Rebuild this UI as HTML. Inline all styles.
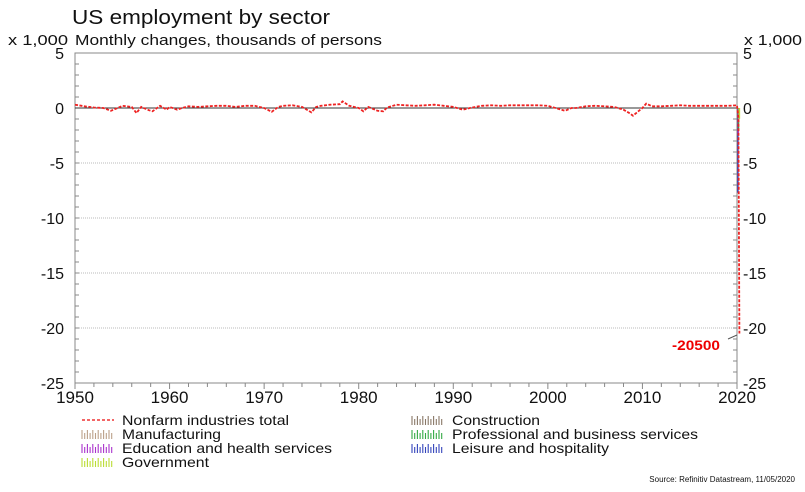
<!DOCTYPE html>
<html><head><meta charset="utf-8"><style>
body{margin:0;background:#fff;font-family:"Liberation Sans",Arial,sans-serif}
svg{display:block}
</style></head><body>
<svg id="chart" width="805" height="492" xmlns="http://www.w3.org/2000/svg">
<text x="72" y="24" font-size="20" textLength="258" lengthAdjust="spacingAndGlyphs" fill="#111">US employment by sector</text>
<text x="8" y="45" font-size="15" textLength="60" lengthAdjust="spacingAndGlyphs" fill="#111">x 1,000</text>
<text x="75" y="45" font-size="15" textLength="307" lengthAdjust="spacingAndGlyphs" fill="#111">Monthly changes, thousands of persons</text>
<text x="744" y="45" font-size="15" textLength="58" lengthAdjust="spacingAndGlyphs" fill="#111">x 1,000</text>
<g id="grid"></g><g id="axes"></g><g id="series"></g>
<text x="672" y="350" font-size="14" font-weight="bold" textLength="48" lengthAdjust="spacingAndGlyphs" fill="#e00">-20500</text>
<line x1="728" y1="339" x2="737" y2="335" stroke="#555" stroke-width="1"/>
<g id="legend" font-size="14" fill="#111">
<line x1="82" y1="420" x2="114" y2="420" stroke="#e33" stroke-width="1.5" stroke-dasharray="3,2"/>
<text x="122" y="425" textLength="167" lengthAdjust="spacingAndGlyphs">Nonfarm industries total</text>
<text x="122" y="439" textLength="99" lengthAdjust="spacingAndGlyphs">Manufacturing</text>
<text x="122" y="453" textLength="210" lengthAdjust="spacingAndGlyphs">Education and health services</text>
<text x="122" y="467" textLength="87" lengthAdjust="spacingAndGlyphs">Government</text>
<text x="452" y="425" textLength="88" lengthAdjust="spacingAndGlyphs">Construction</text>
<text x="452" y="439" textLength="246" lengthAdjust="spacingAndGlyphs">Professional and business services</text>
<text x="452" y="453" textLength="157" lengthAdjust="spacingAndGlyphs">Leisure and hospitality</text>
</g>
<text x="795" y="482" font-size="8" text-anchor="end" fill="#111">Source: Refinitiv Datastream, 11/05/2020</text>
</svg>
<script>
const yearTicks=[1950,1960,1970,1980,1990,2000,2010,2020];
const valueTicks=[5,0,-5,-10,-15,-20,-25];
// nonfarm total, thousands
const nonfarmYears=[1950,1951,1952,1953,1953.8,1954.5,1955,1956,1956.5,1957,1957.8,1958.2,1959,1959.7,1960,1960.8,1961.3,1962,1963,1964,1965,1966,1967,1968,1969,1970,1970.8,1971.5,1972,1973,1974,1975,1975.5,1976,1977,1978,1978.3,1979,1980,1980.5,1981,1982,1982.6,1983,1984,1985,1986,1987,1988,1989,1990,1991,1992,1993,1994,1995,1996,1997,1998,1999,2000,2001,2001.8,2002.5,2003,2004,2005,2006,2007,2008,2008.6,2009,2009.5,2010,2010.4,2011,2012,2013,2014,2015,2016,2017,2018,2019,2020.0,2020.15,2020.25];
const nonfarmValues=[300,150,50,0,-250,0,200,100,-450,100,-200,-300,200,-150,100,-150,0,150,100,150,200,200,100,200,200,0,-350,100,200,250,100,-400,100,200,300,350,600,200,0,-300,100,-250,-300,50,300,250,200,250,300,200,100,-150,50,200,250,200,250,250,250,250,200,-50,-250,0,0,150,200,150,100,-150,-450,-700,-350,0,400,150,150,200,250,200,200,200,200,200,250,-900,-20500];
const sectorNames=['leisure','education','professional','manufacturing','construction','government'];
const sectorValues=[-7700,-2500,-2100,-1300,-975,-980];
const sectorColors=['#3344bb','#aa33cc','#33aa44','#bba088','#887766','#bbdd33'];
const X0=75,X1=737,Y0=53,Y1=383;
const xs=y=>X0+(y-1950)/70*(X1-X0);
const ys=v=>Y0+(5-v/1000)/30*(Y1-Y0);
const NS='http://www.w3.org/2000/svg';
function mk(p,t,a){const e=document.createElementNS(NS,t);for(const k in a)e.setAttribute(k,a[k]);document.getElementById(p).appendChild(e);return e;}
let el;
el=mk('grid','rect',{x:X0,y:Y0,width:X1-X0,height:Y1-Y0,fill:'none',stroke:'#888'});


valueTicks.forEach(v=>{
 if(v!==5&&v!==-25&&v!==0){el=mk('grid','line',{x1:X0,x2:X1,y1:ys(v*1000),y2:ys(v*1000),stroke:'#bbb','stroke-dasharray':'1,1'});
 
 }
 el=mk('axes','text',{x:64,y:ys(v*1000)+6,'font-size':16,'text-anchor':'end',fill:'#111'});el.textContent=v;
 
 
 el=mk('axes','text',{x:743,y:ys(v*1000)+6,'font-size':16,fill:'#111'});el.textContent=v;
 
 
});
for(let v=5;v>=-25;v-=1){[[X0,X0+4],[X1-4,X1]].forEach(p=>mk('axes','line',{x1:p[0],x2:p[1],y1:ys(v*1000),y2:ys(v*1000),stroke:'#888'}));}
for(let y=1950;y<=2020;y+=2){mk('axes','line',{x1:xs(y),x2:xs(y),y1:Y1,y2:Y1+(y%10===0?6:4),stroke:'#888'});}
yearTicks.forEach(y=>{el=mk('axes','text',{x:xs(y),y:Y1+20,'font-size':17,'text-anchor':'middle',fill:'#111'});el.textContent=y;
 
 });
el=mk('axes','line',{x1:X0,x2:X1,y1:ys(0),y2:ys(0),stroke:'#333'});


sectorValues.forEach((v,i)=>{el=mk('series','line',{x1:xs(2020.2)+i*0.3-1,x2:xs(2020.2)+i*0.3-1,y1:ys(0),y2:ys(v),stroke:sectorColors[i],'stroke-width':1.5});
 
 });
const legPos=[[82,434,3],[82,448,1],[82,462,5],[412,420,4],[412,434,2],[412,448,0]];
legPos.forEach(p=>{for(let k=0;k<12;k++){mk('legend','line',{x1:p[0]+k*2.7,x2:p[0]+k*2.7,y1:p[1]+5-(k%2?6:9),y2:p[1]+5,stroke:sectorColors[p[2]],'stroke-width':1.1});}});
const pts=nonfarmYears.map((y,i)=>xs(y).toFixed(1)+','+ys(nonfarmValues[i]).toFixed(1));
el=mk('series','polyline',{points:pts.join(' '),fill:'none',stroke:'#e22','stroke-width':1.8,'stroke-dasharray':'3,1.5'});


</script>
</body></html>
